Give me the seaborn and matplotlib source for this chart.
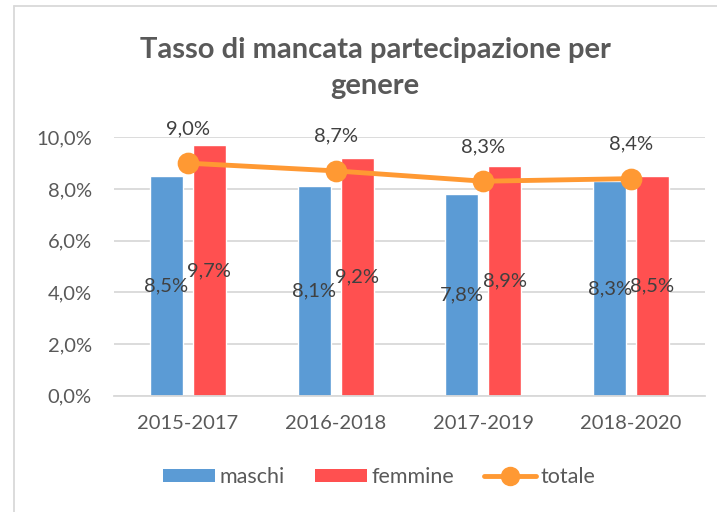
import matplotlib
matplotlib.use("Agg")
import matplotlib.pyplot as plt
import seaborn as sns
import pandas as pd
from matplotlib.patches import Patch
from matplotlib.lines import Line2D

periodi = ["2015-2017", "2016-2018", "2017-2019", "2018-2020"]
maschi = [0.085, 0.081, 0.078, 0.083]
femmine = [0.097, 0.092, 0.089, 0.085]
totale = [0.090, 0.087, 0.083, 0.084]
maschi_lbl = ["8,5%", "8,1%", "7,8%", "8,3%"]
femmine_lbl = ["9,7%", "9,2%", "8,9%", "8,5%"]
totale_lbl = ["9,0%", "8,7%", "8,3%", "8,4%"]
yticks = [0.0, 0.02, 0.04, 0.06, 0.08, 0.10]
ytick_lbl = ["0,0%", "2,0%", "4,0%", "6,0%", "8,0%", "10,0%"]
titolo = "Tasso di mancata partecipazione per\ngenere"

C_BLUE = "#5B9BD5"
C_RED = "#FF5050"
C_ORANGE = "#FF9933"
C_TEXT = "#595959"
C_LBL = "#404040"
C_GRID = "#D9D9D9"

sns.set_theme(style="white")
plt.rcParams["font.family"] = ["Lato", "DejaVu Sans"]

df = pd.DataFrame({
    "periodo": periodi * 2,
    "valore": maschi + femmine,
    "genere": ["maschi"] * 4 + ["femmine"] * 4,
})

fig = plt.figure(figsize=(7.17, 5.12), dpi=100)
ax = fig.add_axes([114 / 717, 1 - 395.7 / 512, 591 / 717, 258.4 / 512])

sns.barplot(data=df, x="periodo", y="valore", hue="genere",
            palette=[C_BLUE, C_RED], width=0.58, gap=0.23,
            order=periodi, hue_order=["maschi", "femmine"],
            errorbar=None, legend=False, ax=ax, saturation=1)

for cont, lbls in zip(ax.containers, [maschi_lbl, femmine_lbl]):
    ax.bar_label(cont, labels=lbls, label_type="center",
                 fontsize=14.5, color=C_LBL)

sns.pointplot(x=periodi, y=totale, color=C_ORANGE, markers="o",
              linestyles="-", markersize=13, linewidth=3.5, ax=ax,
              errorbar=None)
for i, (v, t) in enumerate(zip(totale, totale_lbl)):
    ax.annotate(t, (i, v), xytext=(0, 25), textcoords="offset points",
                ha="center", va="center", fontsize=14.5, color=C_LBL,
                annotation_clip=False)

ax.set_xlim(-0.5, 3.5)
ax.set_ylim(0, 0.10)
ax.set_yticks(yticks)
ax.set_yticklabels(ytick_lbl)
ax.set_xlabel("")
ax.set_ylabel("")
ax.yaxis.grid(True, color=C_GRID, linewidth=1.3)
ax.set_axisbelow(True)
for s in ["top", "right", "left"]:
    ax.spines[s].set_visible(False)
ax.spines["bottom"].set_color(C_GRID)
ax.spines["bottom"].set_linewidth(1.3)
ax.tick_params(axis="both", length=0, labelsize=14.5, colors=C_TEXT)
ax.tick_params(axis="y", pad=16)
ax.tick_params(axis="x", pad=14)

fig.text(375 / 717, 1 - 68 / 512, titolo, ha="center", va="center",
         fontsize=21, fontweight="bold", color=C_TEXT, linespacing=1.5)

handles = [
    Patch(facecolor=C_BLUE, edgecolor="none"),
    Patch(facecolor=C_RED, edgecolor="none"),
    Line2D([0], [0], color=C_ORANGE, lw=3.5, marker="o", markersize=13),
]
fig.legend(handles, ["maschi", "femmine", "totale"], loc="center",
           bbox_to_anchor=(379 / 717, 1 - 477 / 512), ncol=3, frameon=False,
           fontsize=15.5, labelcolor=C_TEXT, handlelength=2.42,
           handleheight=0.6, handletextpad=0.2, columnspacing=1.4)

bx = 14 / 717
by = 1 - 6 / 512
fig.add_artist(Line2D([bx, bx], [0, by], color=C_GRID, lw=1.3,
                      transform=fig.transFigure))
fig.add_artist(Line2D([bx, 1], [by, by], color=C_GRID, lw=1.3,
                      transform=fig.transFigure))

fig.savefig("out.png", dpi=100)
